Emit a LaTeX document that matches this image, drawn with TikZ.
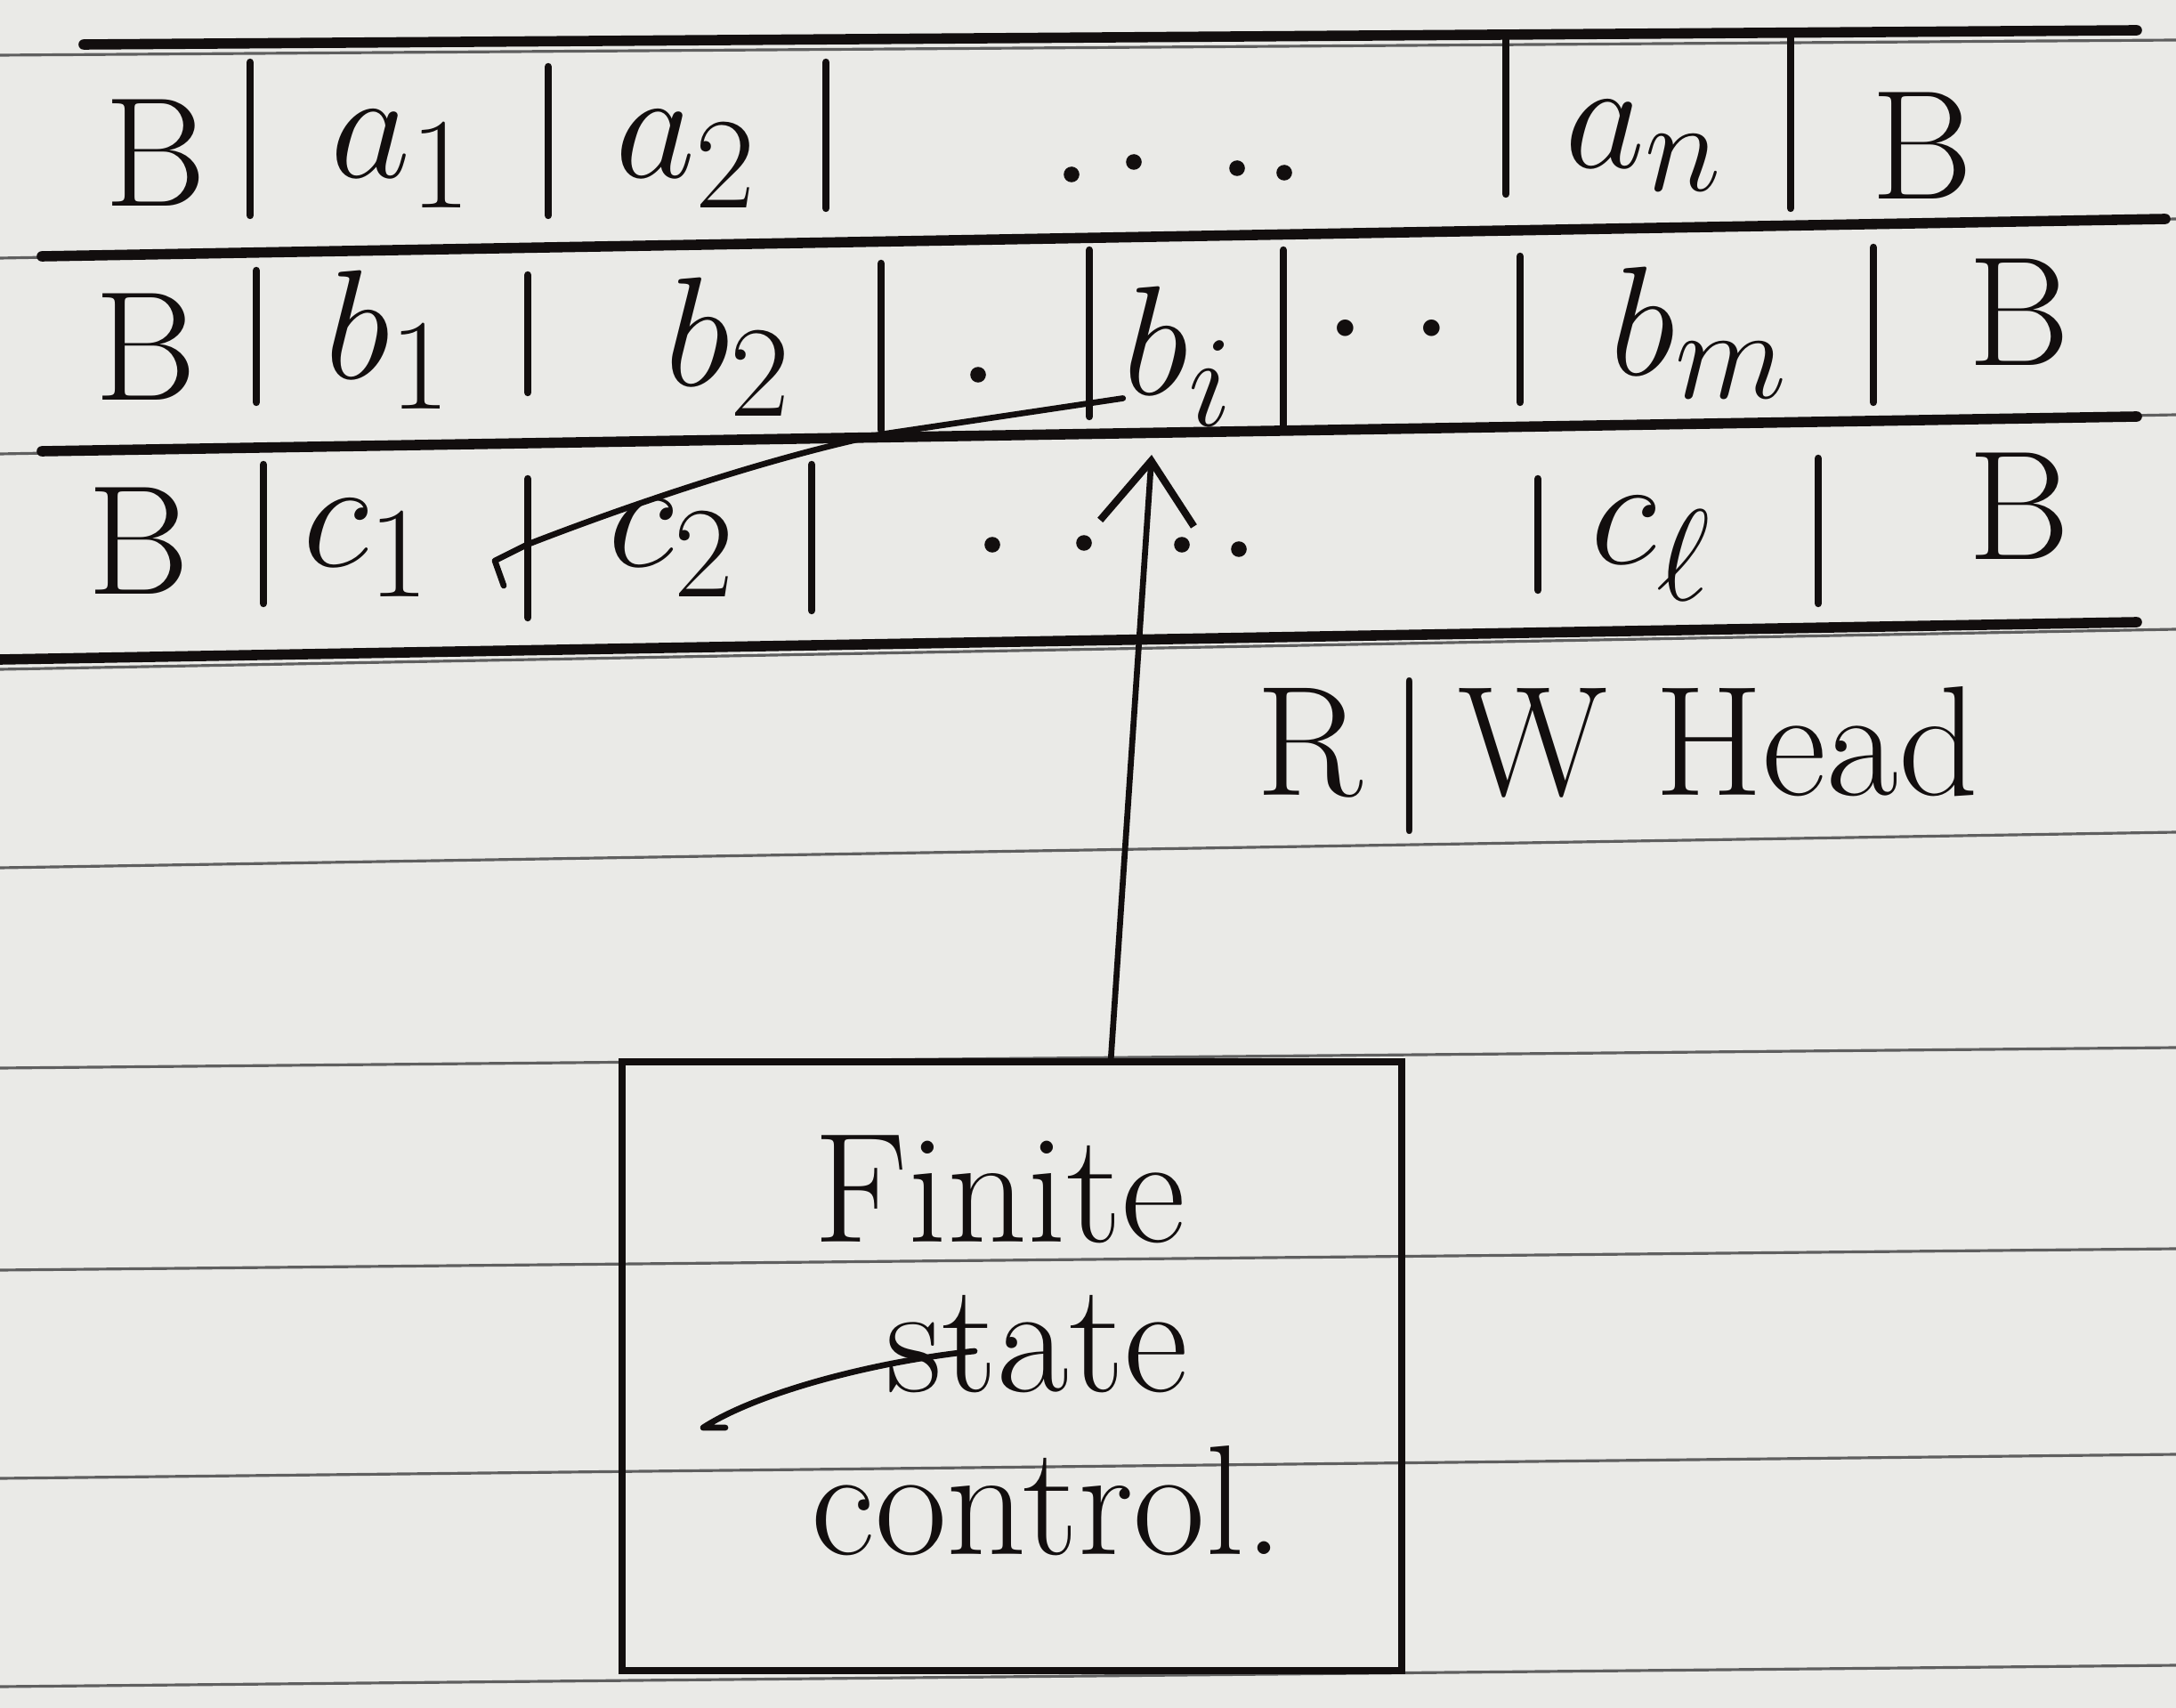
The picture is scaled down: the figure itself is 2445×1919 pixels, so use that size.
\documentclass[tikz,border=0pt]{standalone}
\usepackage{graphicx}
\usetikzlibrary{arrows.meta}
\definecolor{paper}{RGB}{234,234,231}
\definecolor{ink}{RGB}{18,14,14}
\definecolor{rulec}{RGB}{95,95,95}
\newcommand{\tsym}[1]{\scalebox{2.0}{$#1$}}
\begin{document}
\begin{tikzpicture}[x=0.01cm,y=-0.01cm,
  tape/.style={line width=3.3pt,ink,line cap=round},
  cellsep/.style={line width=2.4pt,ink,line cap=round},
  ruling/.style={line width=0.9pt,rulec},
  sym/.style={font=\fontsize{24.88}{30}\selectfont,text=ink,inner sep=0pt},
  lbl/.style={font=\fontsize{50}{56}\selectfont,text=ink,inner sep=0pt},
  pen/.style={line width=1.9pt,ink,line cap=round,line join=round},
  dotmark/.style={circle,fill=ink,inner sep=0pt,minimum size=5pt}]
\fill[paper] (0,0) rectangle (2445,1919);
\useasboundingbox (0,0) rectangle (2445,1919);
% paper ruling
\foreach \a/\b in {62/45,290/246,510/466,752/707,975/935,1200/1177,1427/1403,1661/1634,1895/1871}
  \draw[ruling] (0,\a) -- (2445,\b);
% tape lines
\draw[tape] (94,50) -- (2401,34);
\draw[tape] (47,288) -- (2433,246);
\draw[tape] (47,507) -- (2401,468);
\draw[tape] (0,741) -- (2401,699);
% row 1 dividers
\draw[cellsep] (281,70) -- (281,242);
\draw[cellsep] (616,75) -- (616,242);
\draw[cellsep] (928,70) -- (928,234);
\draw[cellsep] (1692,44) -- (1692,218);
\draw[cellsep] (2012,39) -- (2012,234);
% row 2 dividers
\draw[cellsep] (288,304) -- (288,452);
\draw[cellsep] (593,309) -- (593,441);
\draw[cellsep] (990,296) -- (990,483);
\draw[cellsep] (1224,281) -- (1224,468);
\draw[cellsep] (1442,281) -- (1442,483);
\draw[cellsep] (1708,288) -- (1708,452);
\draw[cellsep] (2105,278) -- (2105,452);
% row 3 dividers
\draw[cellsep] (296,522) -- (296,678);
\draw[cellsep] (593,538) -- (593,694);
\draw[cellsep] (912,522) -- (912,686);
\draw[cellsep] (1728,538) -- (1728,663);
\draw[cellsep] (2043,515) -- (2043,678);
% row 1 symbols
\node[sym] (a0) at (175,172) {\tsym{\mathrm{B}}};
\node[sym] (a1) at (452,179) {\tsym{a_1}};
\node[sym] (a2) at (772,179) {\tsym{a_2}};
\node[dotmark] (ad1) at (1204,196) {};
\node[dotmark] (ad2) at (1274,182) {};
\node[dotmark] (ad3) at (1390,189) {};
\node[dotmark] (ad4) at (1443,194) {};
\node[sym] (an) at (1848,164) {\tsym{a_n}};
\node[sym] (aB) at (2160,164) {\tsym{\mathrm{B}}};
% row 2 symbols
\node[sym] (b0) at (164,390) {\tsym{\mathrm{B}}};
\node[sym] (b1) at (437,382) {\tsym{b_1}};
\node[sym] (b2) at (819,390) {\tsym{b_2}};
\node[dotmark] (bd1) at (1099,421) {};
\node[sym] (bi) at (1325,400) {\tsym{b_i}};
\node[sym] (bdots) at (1560,374) {\tsym{\cdot\;\cdot}};
\node[sym] (bm) at (1910,374) {\tsym{b_m}};
\node[sym] (bB) at (2269,351) {\tsym{\mathrm{B}}};
% row 3 symbols
\node[sym] (c0) at (156,608) {\tsym{\mathrm{B}}};
\node[sym] (c1) at (413,616) {\tsym{c_1}};
\node[sym] (c2) at (756,616) {\tsym{c_2}};
\node[dotmark] (cd1) at (1115,612) {};
\node[dotmark] (cd2) at (1218,610) {};
\node[dotmark] (cd3) at (1328,612) {};
\node[dotmark] (cd4) at (1392,617) {};
\node[sym] (cl) at (1856,616) {\tsym{c_\ell}};
\node[sym] (cB) at (2269,569) {\tsym{\mathrm{B}}};
% stroke from b_i towards c_1
\coordinate (c1mark) at (592,612);
\draw[pen] ([yshift=9pt]bi.south west) -- (990,488) .. controls (860,515) and (700,570) .. (c1mark) -- (556,630) -- (566,658);
% finite control box
\node[draw=ink,line width=2.3pt,minimum width=8.75cm,minimum height=6.84cm,inner sep=0pt] (fsc) at (1137,1535) {};
\node[lbl] (t1) at (1123,1336) {Finite};
\node[lbl] (t2) at (1165,1510) {state};
\node[lbl] (t3) at (1177,1686) {control.};
\draw[pen] (1095,1518) .. controls (980,1530) and (850,1565) .. (790,1604) -- (815,1604);
% R/W head
\coordinate (headbase) at (1248,1193);
\coordinate (headtip) at (1294,511);
\draw[pen,-{Straight Barb[length=20pt,width=30pt,line width=2.3pt]}] (headbase) -- (headtip);
\node[lbl] (rw) at (1817,850) {R\,|\,W Head};
\end{tikzpicture}
\end{document}
